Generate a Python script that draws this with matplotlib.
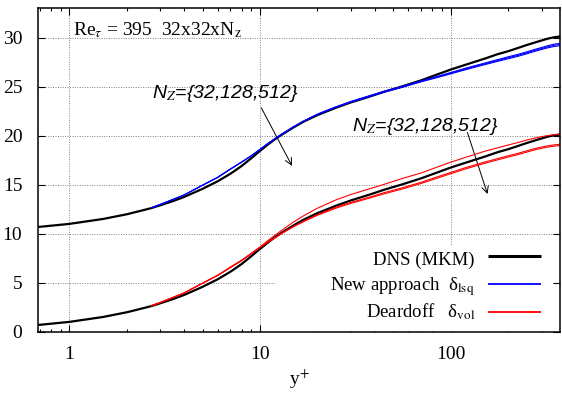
import matplotlib
matplotlib.use("Agg")
import matplotlib.pyplot as plt
from matplotlib.patches import Rectangle
import numpy as np

plt.rcParams['font.family'] = ['Liberation Serif', 'DejaVu Serif']
plt.rcParams['mathtext.fontset'] = 'stix'

# ---------------- data ----------------
offset = 10.0  # upper group is shifted by +10

yplus_dns = [0.69, 1.0, 1.5, 2.0, 2.5, 2.7, 3.0, 3.5, 4.0, 5.0, 6.0, 7.0, 8.0, 9.0, 10, 11, 12, 13,
             15, 17, 20, 25, 30, 37, 45, 55, 70, 85, 100, 120, 150, 175, 200, 225, 250,
             275, 300, 325, 350, 374]
u_dns = [0.69, 1.0, 1.5, 1.98, 2.45, 2.62, 2.9, 3.33, 3.75, 4.58, 5.35, 6.12, 6.9, 7.7, 8.45,
         9.1, 9.65, 10.1, 10.85, 11.45, 12.1, 12.85, 13.4, 13.95, 14.5, 15.0, 15.65,
         16.25, 16.75, 17.25, 17.85, 18.3, 18.62, 18.95, 19.25, 19.5, 19.72, 19.92,
         20.05, 20.12]

yplus_les = [2.7, 3.0, 3.5, 4.0, 5.0, 6.0, 7.0, 8.0, 9.0, 10, 11, 12, 13, 15, 17, 20, 25,
             30, 37, 45, 55, 70, 85, 100, 120, 150, 175, 200, 225, 250, 275, 300, 325,
             350, 374]

# New approach (delta_lsq), Nz = 32, 128, 512
u_lsq_32 = [2.65, 2.98, 3.5, 3.95, 4.95, 5.75, 6.6, 7.3, 7.95, 8.6, 9.2, 9.7, 10.15,
            10.9, 11.5, 12.2, 12.95, 13.5, 14.05, 14.55, 15.0, 15.6, 16.05, 16.45, 16.9,
            17.4, 17.75, 18.05, 18.3, 18.55, 18.8, 19.0, 19.2, 19.35, 19.42]
u_lsq_128 = [2.65, 2.98, 3.5, 3.95, 4.95, 5.75, 6.6, 7.3, 7.95, 8.6, 9.2, 9.7, 10.15,
             10.9, 11.5, 12.18, 12.92, 13.46, 14.0, 14.5, 14.95, 15.55, 15.99, 16.38,
             16.82, 17.32, 17.66, 17.95, 18.2, 18.45, 18.7, 18.9, 19.09, 19.23, 19.3]
u_lsq_512 = [2.65, 2.98, 3.5, 3.95, 4.95, 5.75, 6.6, 7.3, 7.95, 8.6, 9.2, 9.7, 10.15,
             10.9, 11.5, 12.16, 12.89, 13.42, 13.95, 14.45, 14.9, 15.5, 15.93, 16.31,
             16.74, 17.24, 17.57, 17.85, 18.1, 18.35, 18.6, 18.8, 18.98, 19.11, 19.18]

# Deardorff (delta_vol), Nz = 32, 128, 512
u_vol_32 = [2.65, 2.98, 3.5, 3.95, 4.95, 5.75, 6.6, 7.3, 8.0, 8.65, 9.3, 9.85, 10.35,
            11.2, 11.85, 12.6, 13.45, 14.0, 14.55, 15.05, 15.6, 16.2, 16.8, 17.3, 17.8,
            18.4, 18.75, 19.05, 19.3, 19.55, 19.75, 19.9, 20.02, 20.1, 20.15]
u_vol_128 = [2.65, 2.98, 3.5, 3.95, 4.95, 5.75, 6.55, 7.25, 7.95, 8.6, 9.15, 9.6, 10.05,
             10.75, 11.3, 11.95, 12.7, 13.2, 13.7, 14.2, 14.65, 15.25, 15.8, 16.25, 16.75,
             17.3, 17.65, 17.95, 18.2, 18.45, 18.68, 18.85, 18.98, 19.07, 19.12]
u_vol_512 = [2.65, 2.98, 3.5, 3.95, 4.95, 5.75, 6.55, 7.25, 7.95, 8.6, 9.15, 9.6, 10.03,
             10.72, 11.25, 11.88, 12.6, 13.1, 13.6, 14.08, 14.53, 15.13, 15.67, 16.12,
             16.62, 17.17, 17.52, 17.82, 18.07, 18.32, 18.55, 18.72, 18.85, 18.94, 18.99]

legend_labels = ['DNS (MKM)', r'New approach  δ$_{\rm lsq}$', r'Deardoff   δ$_{\rm vol}$']
legend_colors = ['black', '#0000ff', '#ff0000']

xticks = [1, 10, 100]
xticklabels = ['1', '10', '100']
yticks = [0, 5, 10, 15, 20, 25, 30]

FS = 14

# ---------------- figure ----------------
fig = plt.figure(figsize=(5.62, 3.93), dpi=100)
ax = fig.add_axes([38.3 / 562, 1 - 331.7 / 393, (560 - 38.3) / 562, (331.7 - 8.3) / 393])
ax.set_xscale('log')
ax.set_xlim(0.688, 374)
ax.set_ylim(0, 33)

black_lw = 1.6
col_lw = 0.8

# DNS
ax.plot(yplus_dns, np.array(u_dns) + offset, color='black', lw=black_lw, zorder=3)
ax.plot(yplus_dns, u_dns, color='black', lw=black_lw, zorder=3)

# New approach (upper)
for u in (u_lsq_32, u_lsq_128, u_lsq_512):
    ax.plot(yplus_les, np.array(u) + offset, color='#0000ff', lw=col_lw, zorder=4)
# Deardorff (lower)
for u in (u_vol_32, u_vol_128, u_vol_512):
    ax.plot(yplus_les, u, color='#ff0000', lw=col_lw, zorder=4)

# key (gnuplot style: text right-aligned, sample line at right, opaque box)
ax.add_patch(Rectangle((0.4537, 0.0), 0.5329, 0.268, transform=ax.transAxes,
                       facecolor='white', edgecolor='none', zorder=2))
key_base = [0.2062, 0.1290, 0.0445]   # text baselines (axes fraction)
key_line = [0.2330, 0.1466, 0.0618]   # sample line heights (axes fraction)
key_lw = [2.2, 1.3, 1.3]
for lab, col, yb, yl, lw in zip(legend_labels, legend_colors, key_base, key_line, key_lw):
    ax.plot([0.862, 0.9636], [yl, yl], transform=ax.transAxes, color=col, lw=lw,
            zorder=6, solid_capstyle='butt')
    ax.text(0.837, yb, lab, transform=ax.transAxes, ha='right', va='baseline',
            fontsize=13.5, zorder=6)

# grid
ax.set_xticks(xticks)
ax.set_xticklabels(xticklabels)
ax.set_yticks(yticks)
ax.grid(True, which='major', color='#808080', linestyle=(0, (1, 1.5)), lw=0.7)
ax.tick_params(which='both', direction='in', top=True, right=True, labelsize=FS,
               width=0.8)
ax.tick_params(axis='y', which='major', length=5, pad=11.5)
ax.tick_params(axis='x', which='major', length=5, pad=10.5)
ax.tick_params(which='minor', length=2.5)
for s in ax.spines.values():
    s.set_linewidth(1.1)
    s.set_zorder(7)

ax.set_xlabel(r'y$^{+}$', fontsize=FS, labelpad=3)

# texts
ax.text(1.04, 30.8, r'Re$_{\tau}$ = 395  32x32xN$_{\rm z}$', fontsize=FS,
        ha='left', va='center')

sans_it = dict(family=['Liberation Sans', 'DejaVu Sans'], style='italic', fontsize=FS)
ax.text(2.70, 24.3, r'N$_{Z}$={32,128,512}', ha='left', va='center', **sans_it)
ax.text(30.3, 20.9, r'N$_{Z}$={32,128,512}', ha='left', va='center', **sans_it)

arrow = dict(arrowstyle='->', color='black', lw=0.7, mutation_scale=12)
ax.annotate('', xy=(14.95, 16.67), xytext=(10.0, 23.1), arrowprops=arrow)
ax.annotate('', xy=(157.5, 13.78), xytext=(121.0, 20.6), arrowprops=arrow)

fig.savefig('out.png', dpi=100)
